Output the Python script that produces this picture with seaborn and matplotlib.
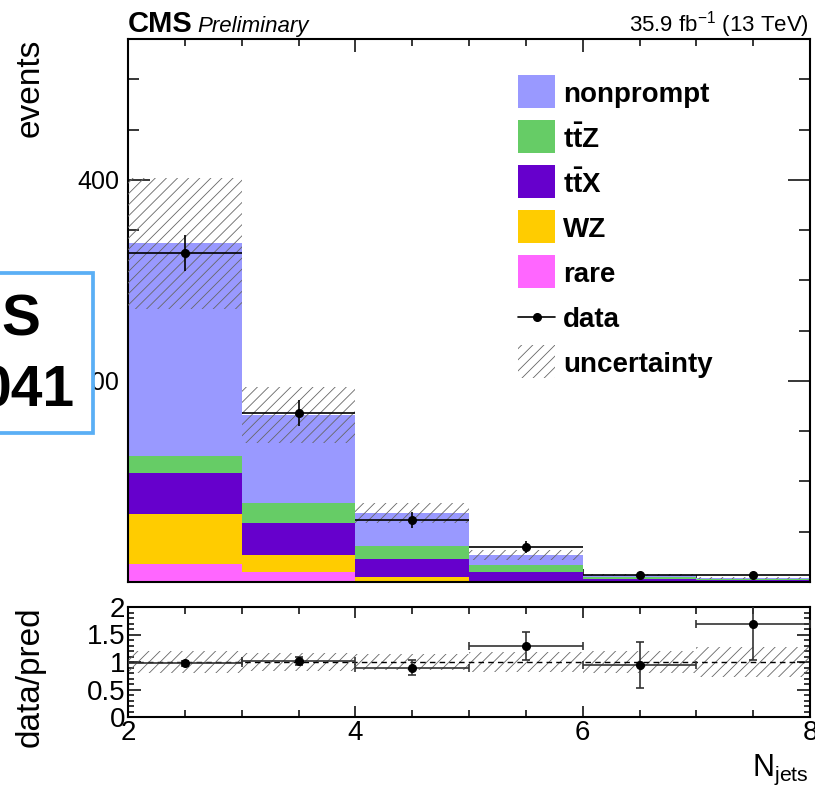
import numpy as np
import pandas as pd
import matplotlib
matplotlib.use("Agg")
import matplotlib.pyplot as plt
import seaborn as sns
from matplotlib.patches import Rectangle
from matplotlib.lines import Line2D
from matplotlib.ticker import FixedLocator, MultipleLocator

# ---------------- data ----------------
edges = [2, 3, 4, 5, 6, 7, 8]
processes = ["nonprompt", "ttZ", "ttX", "WZ", "rare"]
labels = ["nonprompt", r"$\mathbf{t\bar{t}Z}$", r"$\mathbf{t\bar{t}X}$", "WZ", "rare"]
colors = ["#9999ff", "#66cc66", "#6600cc", "#ffcc00", "#ff66ff"]

nonprompt = [211.8, 87.7, 32.7, 10.3, 2.1, 1.2]
ttZ = [16.5, 19.2, 12.9, 6.6, 1.8, 0.6]
ttX = [41.0, 32.1, 18.6, 8.9, 2.4, 2.0]
WZ = [49.9, 16.6, 3.8, 0.6, 0.4, 0.2]
rare = [17.6, 10.2, 0.8, 0.4, 0.2, 0.1]

data = [327.0, 168.0, 61.5, 34.7, 6.6, 7.0]
data_err = [18.1, 13.0, 7.8, 5.9, 2.6, 2.6]
unc = [65.0, 28.0, 10.0, 4.8, 1.4, 1.15]

ratio = [0.975, 1.02, 0.90, 1.29, 0.95, 1.69]
ratio_err = [0.05, 0.07, 0.13, 0.26, 0.42, 0.66]
ratio_unc = [0.20, 0.17, 0.15, 0.18, 0.20, 0.28]

# ---------------- style ----------------
sns.set_theme(style="ticks")
plt.rcParams["font.family"] = ["Liberation Sans", "DejaVu Sans"]
plt.rcParams["mathtext.fontset"] = "custom"
plt.rcParams["mathtext.rm"] = "Liberation Sans"
plt.rcParams["mathtext.it"] = "Liberation Sans:italic"
plt.rcParams["mathtext.bf"] = "Liberation Sans:bold"
plt.rcParams["hatch.linewidth"] = 0.6
plt.rcParams["hatch.color"] = "#666666"
for k in ["text.color", "axes.labelcolor", "xtick.color", "ytick.color",
          "axes.edgecolor", "xtick.labelcolor", "ytick.labelcolor"]:
    plt.rcParams[k] = "black"

W, H = 815, 792
fig = plt.figure(figsize=(W / 100, H / 100), dpi=100)


def fx(px):
    return px / W


def fy(py):
    return 1 - py / H


ax = fig.add_axes([fx(128), fy(582), fx(810) - fx(128), fy(39) - fy(582)])
rax = fig.add_axes([fx(128), fy(717), fx(810) - fx(128), fy(607) - fy(717)])

centers = [(edges[i] + edges[i + 1]) / 2 for i in range(len(edges) - 1)]
series = dict(nonprompt=nonprompt, ttZ=ttZ, ttX=ttX, WZ=WZ, rare=rare)
rows = []
for p in processes:
    for c, v in zip(centers, series[p]):
        rows.append(dict(njets=c, events=v, process=p))
df = pd.DataFrame(rows)

sns.histplot(data=df, x="njets", weights="events", hue="process",
             hue_order=processes, palette=dict(zip(processes, colors)),
             multiple="stack", bins=edges, alpha=1, linewidth=0,
             legend=False, ax=ax, zorder=1)

total = np.sum([series[p] for p in processes], axis=0)
lo = np.append(total - np.array(unc), (total - np.array(unc))[-1])
hi = np.append(total + np.array(unc), (total + np.array(unc))[-1])
ax.fill_between(edges, lo, hi, step="post", facecolor="none",
                edgecolor="#666666", linewidth=0, hatch="///", zorder=3)

ax.errorbar(centers, data, yerr=data_err, xerr=0.5, fmt="o", color="black",
            ms=5.5, elinewidth=1.2, capsize=0, zorder=5)

ax.set_xlim(2, 8)
ax.set_ylim(0, 540)
ax.set_xlabel("")
ax.set_ylabel("")
ax.xaxis.set_major_locator(FixedLocator([2, 4, 6, 8]))
ax.xaxis.set_minor_locator(MultipleLocator(0.5))
ax.yaxis.set_major_locator(FixedLocator([200, 400]))
ax.yaxis.set_minor_locator(MultipleLocator(50))
ax.tick_params(axis="x", which="major", direction="in", length=9.5, width=1.1,
               top=True, bottom=True, labelbottom=False)
ax.tick_params(axis="x", which="minor", direction="in", length=5, width=1.1,
               top=True, bottom=True)
ax.tick_params(axis="y", which="major", direction="in", length=16, width=1.1,
               left=True, right=True, labelsize=18, pad=6)
ax.tick_params(axis="y", which="minor", direction="in", length=8, width=1.1,
               left=True, right=True)
for s in ax.spines.values():
    s.set_linewidth(1.5)
    s.set_visible(True)

# ratio panel
r_lo = np.append(1 - np.array(ratio_unc), 1 - ratio_unc[-1])
r_hi = np.append(1 + np.array(ratio_unc), 1 + ratio_unc[-1])
rax.fill_between(edges, r_lo, r_hi, step="post", facecolor="none",
                 edgecolor="#666666", linewidth=0, hatch="///", zorder=2)
rax.axhline(1, color="black", lw=1.0, ls=(0, (4, 3)), zorder=3)
rax.errorbar(centers, ratio, yerr=ratio_err, xerr=0.5, fmt="o", color="black",
             ecolor="#333333", ms=5.5, elinewidth=1.2, capsize=3, capthick=1.2,
             zorder=5)
rax.set_xlim(2, 8)
rax.set_ylim(0, 2)
rax.xaxis.set_major_locator(FixedLocator([2, 4, 6, 8]))
rax.xaxis.set_minor_locator(MultipleLocator(0.5))
rax.yaxis.set_major_locator(FixedLocator([0, 0.5, 1, 1.5, 2]))
rax.yaxis.set_minor_locator(MultipleLocator(0.1))
rax.set_yticklabels(["0", "0.5", "1", "1.5", "2"])
rax.tick_params(axis="x", which="major", direction="in", length=8, width=1.1,
                top=True, bottom=True, labelsize=20, pad=2)
rax.tick_params(axis="x", which="minor", direction="in", length=5, width=1.1,
                top=True, bottom=True)
rax.tick_params(axis="y", which="major", direction="in", length=9.5, width=1.1,
                left=True, right=True, labelsize=20, pad=2)
rax.tick_params(axis="y", which="minor", direction="in", length=4.5, width=1.1,
                left=True, right=True)
for s in rax.spines.values():
    s.set_linewidth(1.5)
    s.set_visible(True)

# texts
fig.text(fx(128), fy(32), "CMS", fontsize=21, fontweight="bold", va="baseline", ha="left")
fig.text(fx(197), fy(32), "Preliminary", fontsize=16, style="italic", va="baseline", ha="left")
fig.text(fx(809), fy(31), r"35.9 fb$^{-1}$ (13 TeV)", fontsize=16, va="baseline", ha="right")
fig.text(fx(30), fy(39), "events", fontsize=24, rotation=90, ha="center", va="top")
fig.text(fx(30), fy(606), "data/pred", fontsize=24, rotation=90, ha="center", va="top")
fig.text(fx(809), fy(776), r"N$_{\mathregular{jets}}$", fontsize=22, ha="right", va="baseline")

# legend (manual)
for i, (lab, col) in enumerate(zip(labels, colors)):
    yc = 91.7 + 45 * i
    fig.patches.append(Rectangle((fx(518), fy(yc + 16.5)), fx(555) - fx(518), fy(yc - 16.5) - fy(yc + 16.5),
                                 transform=fig.transFigure, facecolor=col, edgecolor="none"))
    fig.text(fx(563), fy(yc), lab, fontsize=20, fontweight="bold", va="center_baseline", ha="left")
yc = 91.7 + 45 * 5
fig.lines.append(Line2D([fx(518), fx(555)], [fy(yc), fy(yc)], transform=fig.transFigure, color="black", lw=1.2))
fig.lines.append(Line2D([fx(536.5)], [fy(yc)], transform=fig.transFigure, marker="o", ms=5.5, color="black"))
fig.text(fx(563), fy(yc), "data", fontsize=20, fontweight="bold", va="center_baseline", ha="left")
yc = 91.7 + 45 * 6
fig.patches.append(Rectangle((fx(518), fy(yc + 16.5)), fx(555) - fx(518), fy(yc - 16.5) - fy(yc + 16.5),
                             transform=fig.transFigure, facecolor="none", edgecolor="#666666",
                             linewidth=0, hatch="///"))
fig.text(fx(563), fy(yc), "uncertainty", fontsize=20, fontweight="bold", va="center_baseline", ha="left")

# overlay box at left edge
fig.patches.append(Rectangle((fx(-20), fy(433)), fx(93) - fx(-20), fy(273) - fy(433),
                             transform=fig.transFigure, facecolor="white",
                             edgecolor="#5aaff5", linewidth=2.7, zorder=10))
fig.text(fx(40), fy(335), "S", fontsize=42, fontweight="bold", ha="right", va="baseline", zorder=11)
fig.text(fx(75), fy(407), "041", fontsize=41, fontweight="bold", ha="right", va="baseline", zorder=11)

fig.savefig("out.png", dpi=100)
